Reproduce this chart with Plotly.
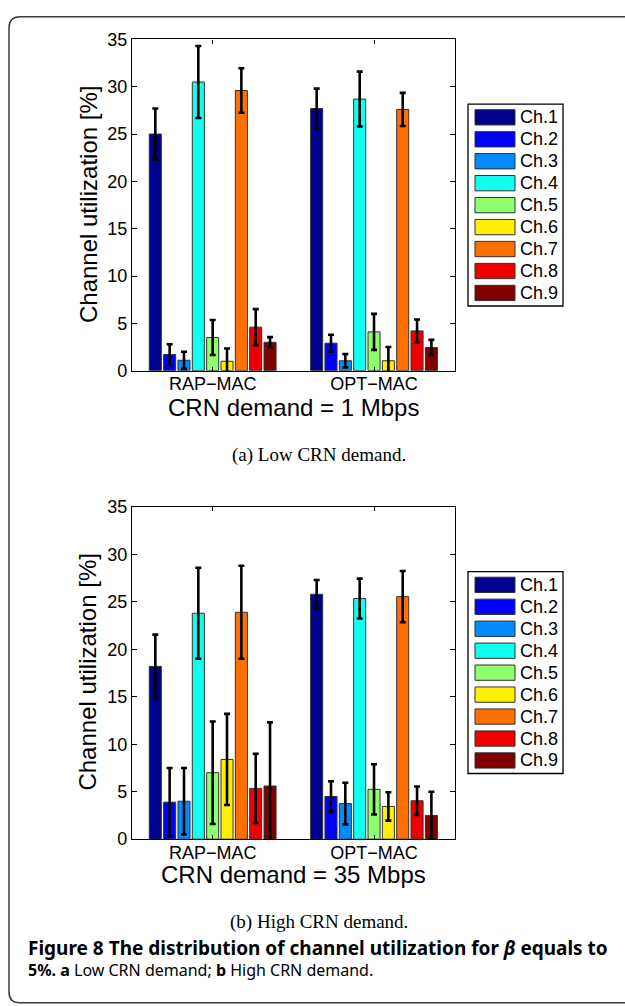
import plotly.graph_objects as go

W, H = 625, 1006

# ---------------- data ----------------
categories = ["RAP\u2212MAC", "OPT\u2212MAC"]
channels = ["Ch.1", "Ch.2", "Ch.3", "Ch.4", "Ch.5", "Ch.6", "Ch.7", "Ch.8", "Ch.9"]
colors = ["#00008F", "#0000FF", "#008CFF", "#10FFEF", "#8FFF70",
          "#FFEF00", "#FF7000", "#EF0000", "#800000"]

low_rap = [25.0, 1.7, 1.1, 30.5, 3.5, 1.0, 29.6, 4.6, 3.0]
low_rap_err = [2.7, 1.1, 0.9, 3.8, 1.85, 1.35, 2.35, 1.9, 0.55]
low_opt = [27.7, 2.9, 1.05, 28.7, 4.1, 1.05, 27.6, 4.2, 2.45]
low_opt_err = [2.1, 0.9, 0.7, 2.9, 1.9, 1.45, 1.75, 1.2, 0.8]

high_rap = [18.2, 3.9, 4.0, 23.8, 7.0, 8.4, 23.9, 5.35, 5.6]
high_rap_err = [3.35, 3.6, 3.5, 4.8, 5.4, 4.8, 4.9, 3.65, 6.7]
high_opt = [25.8, 4.5, 3.75, 25.35, 5.25, 3.45, 25.55, 4.05, 2.5]
high_opt_err = [1.5, 1.6, 2.2, 2.1, 2.65, 1.5, 2.7, 1.5, 2.5]

y_ticks = [0, 5, 10, 15, 20, 25, 30, 35]
y_title = "Channel utilization [%]"
x_titles = ["CRN demand = 1 Mbps", "CRN demand = 35 Mbps"]
sub_captions = ["(a) Low CRN demand.", "(b) High CRN demand."]

# ---------------- helpers ----------------
def px(x):
    return x / W

def py(y):
    return 1 - y / H

SANS = "Liberation Sans, Arial, Helvetica, sans-serif"
SERIF = "Liberation Serif, Times New Roman, serif"
CAP = "Noto Sans, Open Sans, sans-serif"

fig = go.Figure()

panels = [
    ("x", "y", low_rap, low_rap_err, low_opt, low_opt_err),
    ("x2", "y2", high_rap, high_rap_err, high_opt, high_opt_err),
]

for xa, ya, rap, rap_e, opt, opt_e in panels:
    for k, ch in enumerate(channels):
        fig.add_trace(go.Bar(
            x=categories,
            y=[rap[k], opt[k]],
            name=ch,
            xaxis=xa, yaxis=ya,
            marker=dict(color=colors[k], line=dict(color="rgb(50,50,50)", width=1)),
            error_y=dict(type="data", array=[rap_e[k], opt_e[k]],
                         color="black", thickness=2.6, width=3),
            showlegend=False,
        ))

x_dom = [px(132), px(454.7)]
top_dom = [py(368), py(30)]
bot_dom = [py(846), py(507)]

axis_common = dict(showline=True, linecolor="black", linewidth=1.2, mirror="ticks",
                   ticks="inside", tickcolor="black", showgrid=False, zeroline=False,
                   tickfont=dict(family=SANS, size=18, color="black"))

fig.update_layout(
    width=W, height=H,
    margin=dict(l=0, r=0, t=0, b=0),
    paper_bgcolor="white", plot_bgcolor="white",
    barmode="group", bargap=0.2, bargroupgap=0.16,
    xaxis=dict(domain=x_dom, anchor="y", ticklen=4, ticklabelstandoff=-3, **axis_common),
    yaxis=dict(domain=top_dom, anchor="x", range=[0, 35], tickvals=y_ticks, ticklen=5,
               **axis_common),
    xaxis2=dict(domain=x_dom, anchor="y2", ticklen=4, ticklabelstandoff=-3, **axis_common),
    yaxis2=dict(domain=bot_dom, anchor="x2", range=[0, 35], tickvals=y_ticks, ticklen=5,
                **axis_common),
)

shapes = []
annotations = []

# outer rounded frame
r = 11
x0, y0, x1, y1 = 9, 7, 640, 1013
path = (f"M {px(x0)},{py(y0 + r)} Q {px(x0)},{py(y0)} {px(x0 + r)},{py(y0)} "
        f"L {px(x1)},{py(y0)} L {px(x1)},{py(y1)} L {px(x0 + r)},{py(y1)} "
        f"Q {px(x0)},{py(y1)} {px(x0)},{py(y1 - r)} Z")
shapes.append(dict(type="path", xref="paper", yref="paper", path=path,
                   line=dict(color="rgb(60,60,60)", width=1.5), fillcolor="rgba(0,0,0,0)",
                   layer="below"))

for p, off in enumerate([0, 477]):
    # legend box
    shapes.append(dict(type="rect", xref="paper", yref="paper",
                       x0=px(468), x1=px(563), y0=py(96 + off), y1=py(302 + off),
                       line=dict(color="black", width=1.3), fillcolor="white"))
    for k, ch in enumerate(channels):
        cy = 109.5 + k * 22.4 + off
        shapes.append(dict(type="rect", xref="paper", yref="paper",
                           x0=px(475), x1=px(515), y0=py(cy - 7.8), y1=py(cy + 7.8),
                           line=dict(color="rgb(50,50,50)", width=1), fillcolor=colors[k]))
        annotations.append(dict(text=ch, xref="paper", yref="paper", x=px(518), y=py(cy),
                                xanchor="left", yanchor="middle", showarrow=False,
                                font=dict(family=SANS, size=18, color="black")))
    # y title
    annotations.append(dict(text=y_title, xref="paper", yref="paper", x=px(88),
                            y=py(199 + off), textangle=-90, xanchor="center",
                            yanchor="middle", showarrow=False,
                            font=dict(family=SANS, size=24, color="black")))
    # x title
    annotations.append(dict(text=x_titles[p], xref="paper", yref="paper", x=px(293.3),
                            y=py(405.5 + off), xanchor="center", yanchor="middle",
                            showarrow=False, font=dict(family=SANS, size=24, color="black")))
    # sub caption
    annotations.append(dict(text=sub_captions[p], xref="paper", yref="paper", x=px(319),
                            y=py(453.6 + off), xanchor="center", yanchor="middle",
                            showarrow=False, font=dict(family=SERIF, size=19, color="black")))

annotations.append(dict(
    text="<b>Figure 8 The distribution of channel utilization for <i>\u03b2</i> equals to</b>",
    xref="paper", yref="paper", x=px(26), y=py(956.6), xanchor="left", yanchor="middle",
    showarrow=False, font=dict(family=CAP, size=19, color="black")))
annotations.append(dict(
    text="<b>5%.</b> <b>a</b> Low CRN demand; <b>b</b> High CRN demand.",
    xref="paper", yref="paper", x=px(26), y=py(979.8), xanchor="left", yanchor="middle",
    showarrow=False, font=dict(family=CAP, size=16, color="black")))

fig.update_layout(shapes=shapes, annotations=annotations)

fig.write_html("out.html")
